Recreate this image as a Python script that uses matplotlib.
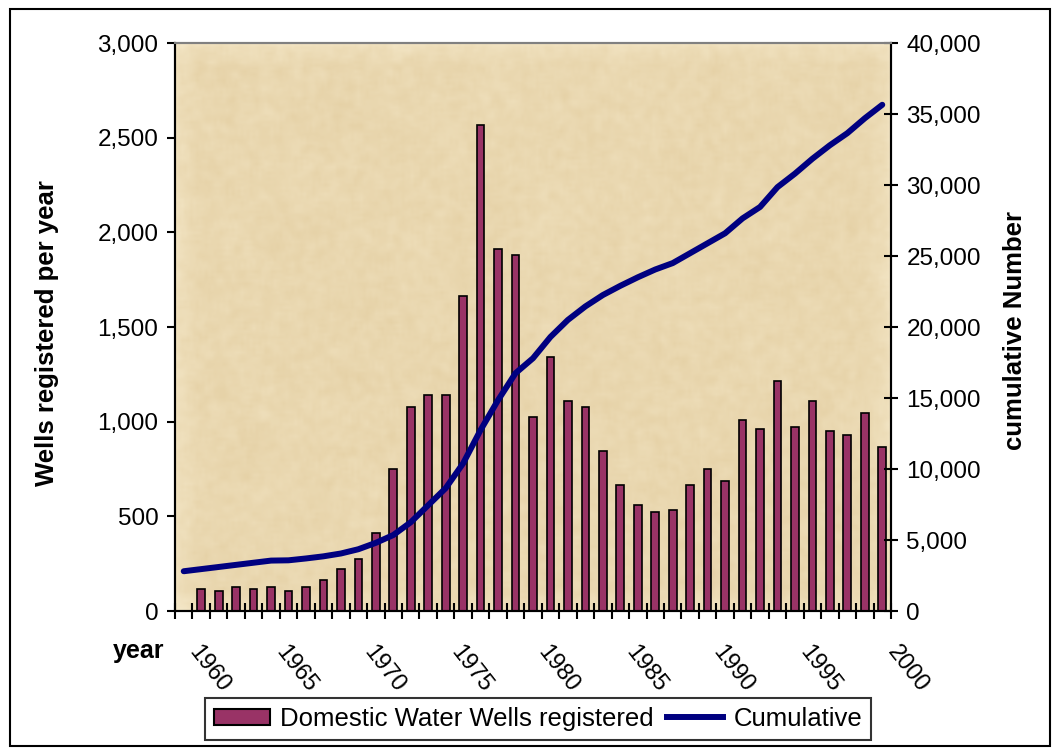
import numpy as np
import matplotlib
matplotlib.use("Agg")
import matplotlib.pyplot as plt
from matplotlib.patches import Rectangle
from matplotlib.lines import Line2D
from matplotlib.ticker import FixedLocator, FuncFormatter
import matplotlib.transforms as mtransforms

plt.rcParams['font.family'] = ['Liberation Sans', 'DejaVu Sans']

# Domestic water wells registered each year, and the running total
years = list(range(1960, 2001))
wells = [None, 115, 105, 125, 115, 125, 105, 125, 165, 220,
         275, 410, 750, 1075, 1140, 1140, 1665, 2565, 1910, 1880,
         1025, 1340, 1110, 1075, 845, 665, 560, 525, 535, 665,
         750, 685, 1010, 960, 1215, 970, 1110, 950, 930, 1045,
         865]
cumulative = [2800, 2950, 3100, 3250, 3400, 3550, 3570, 3700, 3850, 4050,
              4350, 4800, 5350, 6250, 7450, 8650, 10400, 12750, 14850, 16750,
              17800, 19300, 20500, 21450, 22250, 22900, 23500, 24050, 24500, 25200,
              25900, 26600, 27650, 28450, 29850, 30800, 31850, 32800, 33650, 34700,
              35650]
label_years = [1960, 1965, 1970, 1975, 1980, 1985, 1990, 1995, 2000]

bar_color = '#993366'
line_color = '#000080'

fig = plt.figure(figsize=(10.58, 7.56), dpi=100)
W, H = 1058, 756
ax = fig.add_axes([175 / W, 1 - 611 / H, 716 / W, 568 / H])
ax2 = ax.twinx()

idx = np.arange(len(years))
n = len(years)

# parchment background: fine grain over a few soft blotches
rng = np.random.default_rng(7)
def smooth(a, w):
    k = np.ones(w) / w
    a = np.apply_along_axis(lambda r: np.convolve(r, k, mode='same'), 1, a)
    return np.apply_along_axis(lambda c: np.convolve(c, k, mode='same'), 0, a)
coarse = smooth(rng.random((190, 240)), 15)
fine = smooth(rng.random((190, 240)), 3)
norm = lambda a: (a - a.min()) / (a.max() - a.min())
tex = np.clip(0.55 * norm(coarse) + 0.45 * norm(fine), 0, 1)
light = np.array([246, 234, 204]) / 255
dark = np.array([228, 207, 163]) / 255
img = light[None, None, :] * (1 - tex[..., None]) + dark[None, None, :] * tex[..., None]
ax.imshow(img, extent=(-0.5, n - 0.5, 0, 3000), aspect='auto', zorder=0,
          interpolation='bilinear')

mask = np.array([w is not None for w in wells])
heights = np.array([w if w is not None else 0 for w in wells], dtype=float)
ax.bar(idx[mask], heights[mask], width=0.44, color=bar_color,
       edgecolor='black', linewidth=1.2, zorder=2)

ax2.plot(idx, cumulative, color=line_color, linewidth=4.3,
         solid_capstyle='round', solid_joinstyle='round', zorder=3)

ax.set_xlim(-0.5, n - 0.5)
ax.set_ylim(0, 3000)
ax2.set_ylim(0, 40000)

comma = FuncFormatter(lambda v, p: '{:,.0f}'.format(v))
ax.set_yticks(np.arange(0, 3001, 500))
ax.yaxis.set_major_formatter(comma)
ax2.set_yticks(np.arange(0, 40001, 5000))
ax2.yaxis.set_major_formatter(comma)

# category labels every five years, tick marks between categories
ax.xaxis.set_major_locator(FixedLocator([years.index(y) for y in label_years]))
ax.set_xticklabels([str(y) for y in label_years])
ax.xaxis.set_minor_locator(FixedLocator(np.arange(-0.5, n, 1.0)))
ax.tick_params(axis='x', which='major', length=0, pad=22, labelsize=17)
ax.tick_params(axis='x', which='minor', direction='inout', length=12,
               width=1.5, color='black')
offset = mtransforms.ScaledTranslation(13 / 72, 0, fig.dpi_scale_trans)
for lab in ax.get_xticklabels():
    lab.set_rotation(-52)
    lab.set_ha('left')
    lab.set_va('top')
    lab.set_rotation_mode('anchor')
    lab.set_transform(lab.get_transform() + offset)

ax.tick_params(axis='y', direction='out', length=6, width=1.5, labelsize=17.5, pad=6)
ax2.tick_params(axis='y', direction='inout', length=10, width=1.5, labelsize=17.5, pad=6)

for a in (ax, ax2):
    a.spines['top'].set_color('#808080')
    a.spines['top'].set_linewidth(1.5)
    for s in ('left', 'right', 'bottom'):
        a.spines[s].set_linewidth(1.5)
        a.spines[s].set_color('black')

ax.set_ylabel('Wells registered per year', fontsize=18.5, fontweight='bold')
ax.yaxis.set_label_coords(-(175 - 59) / 716, 0.49)
ax2.set_ylabel('cumulative Number', fontsize=18.5, fontweight='bold',
               rotation=90)
ax2.yaxis.set_label_coords(1 + (1003 - 891) / 716, 0.5 + (611 - 330 - 284) / 568)

fig.text(113 / W, 1 - 651 / H, 'year', fontsize=18, fontweight='bold',
         ha='left', va='center')

handles = [Rectangle((0, 0), 1, 1, facecolor=bar_color, edgecolor='black', linewidth=1.5),
           Line2D([], [], color=line_color, linewidth=4.3)]
leg = fig.legend(handles, ['Domestic Water Wells registered', 'Cumulative'],
                 loc='center', bbox_to_anchor=(538 / W, 1 - 719 / H), ncol=2,
                 fontsize=18.5, frameon=True, fancybox=False, shadow=False,
                 handlelength=2.2, handleheight=0.6, handletextpad=0.4,
                 columnspacing=0.5, borderpad=0.35, borderaxespad=0)
leg.get_frame().set_edgecolor('black')
leg.get_frame().set_linewidth(1.5)

# outer chart border
fig.patches.append(Rectangle((10 / W, 1 - 746 / H), 1040 / W, 737 / H,
                             transform=fig.transFigure, fill=False,
                             edgecolor='black', linewidth=1.5))

fig.savefig('out.png', dpi=100)
